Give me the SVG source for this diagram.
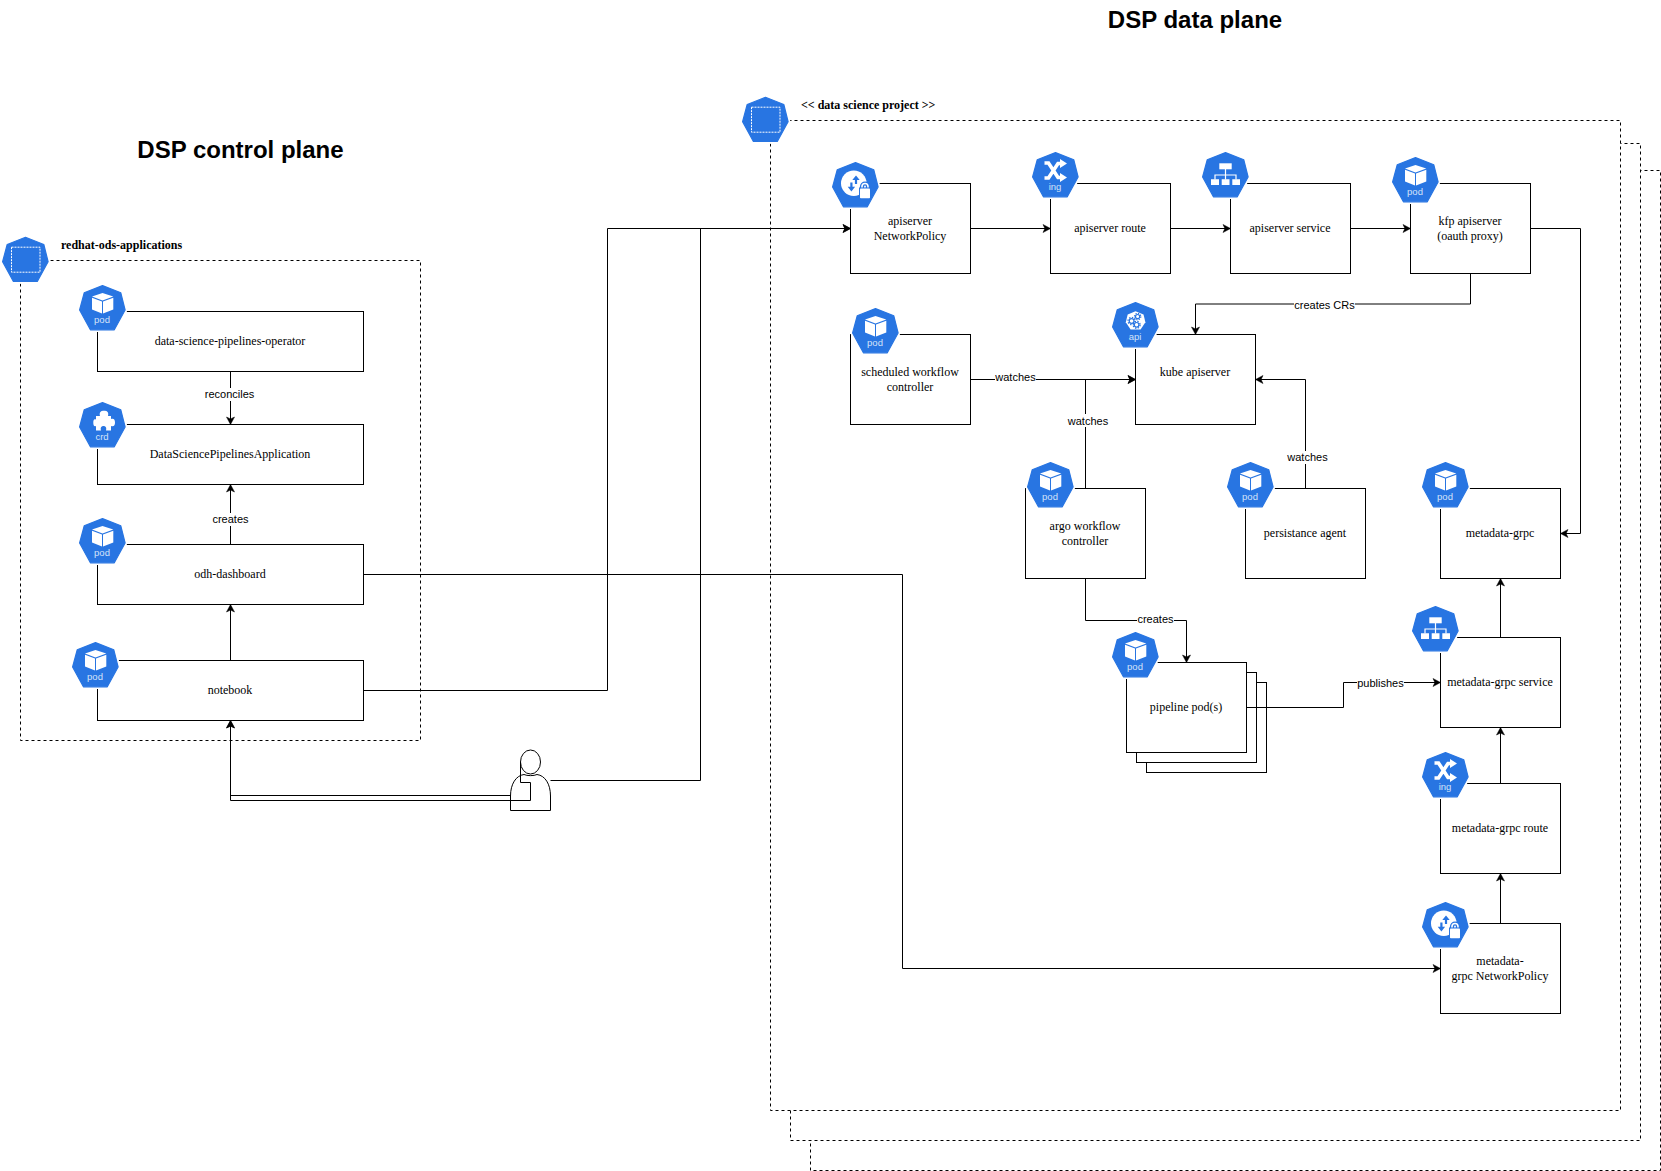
<svg xmlns="http://www.w3.org/2000/svg" xmlns:xlink="http://www.w3.org/1999/xlink" width="1661" height="1171" viewBox="0 0 1661 1171">
<style>
.box{fill:#fff;stroke:#000;stroke-width:1}
.ns{fill:#fff;stroke:#000;stroke-width:1;stroke-dasharray:3 3}
.t{font-family:"Liberation Serif",serif;font-size:12px;text-anchor:middle;fill:#000}
.nst{font-family:"Liberation Serif",serif;font-size:12px;font-weight:bold;fill:#000}
.title{font-family:"Liberation Sans",Arial,sans-serif;font-size:24px;font-weight:bold;text-anchor:middle;fill:#000}
.ik{font-family:"Liberation Sans",Arial,sans-serif;font-size:9.5px;text-anchor:middle;fill:#d4e3f9}
.e{fill:none;stroke:#000;stroke-width:1;marker-end:url(#arr)}
.lb{fill:#fff;stroke:none}
.lt{font-family:"Liberation Sans",Arial,sans-serif;font-size:11px;text-anchor:middle;fill:#000}
.w{fill:#fff}
</style>
<defs>
<marker id="arr" markerUnits="userSpaceOnUse" markerWidth="9" markerHeight="10" refX="7.5" refY="4.5" orient="auto" overflow="visible">
<path d="M0,0.5 L7.5,4.5 L0,8.5 L1.9,4.5 Z" fill="#000" stroke="#000" stroke-width="0.5"/>
</marker>
<g id="hex">
<path d="M23.5,0 L42.3,7.3 L46.7,25 L35.7,45.3 L11,45.3 L0,25 L4.7,7.3 Z" fill="#fff" stroke="#fff" stroke-width="3.5" stroke-linejoin="round"/>
<path d="M23.5,0.6 L41.8,7.8 L46.1,25 L35.3,44.8 L11.4,44.8 L0.6,25 L5.2,7.8 Z" fill="#2875e2" stroke="#2875e2" stroke-width="1.2" stroke-linejoin="round"/>
</g>
<g id="i-ns"><use href="#hex"/><rect x="9.5" y="10.5" width="28.5" height="25" fill="none" stroke="#fff" stroke-width="1" stroke-dasharray="2 1"/></g>
<g id="i-pod"><use href="#hex"/>
<path class="w" d="M23.5,8 L34.3,11.6 L23.5,15.4 L13,11.6 Z"/>
<path class="w" d="M13,12.8 L23,16.4 L23,28.4 L13,24.6 Z"/>
<path class="w" d="M24,16.4 L34.3,12.8 L34.3,24.6 L24,28.4 Z"/>
</g>
<g id="i-crd"><use href="#hex"/>
<path class="w" d="M17,14 H21 C20,10 22,8.7 25,8.7 C28,8.7 30,10 29,14 H32 V17 C35,16 36,18 36,20.5 C36,23 35,25 32,24 V28.5 H27 C28,25 26,24 24.5,24 C23,24 21,25 22,28.5 H17 V24 C15,25 14.3,23 14.3,20.5 C14.3,18 15,16.5 17,17.5 Z"/>
</g>
<g id="i-ing"><use href="#hex"/>
<path d="M12.5,11 H16.5 L26,25.5 H29 M12.5,26 H16.5 L26,11.5 H29" fill="none" stroke="#fff" stroke-width="3.6"/>
<path class="w" d="M28,7 L35,11.5 L28,16 Z M28,21 L35,25.5 L28,30 Z"/>
</g>
<g id="i-svc"><use href="#hex"/>
<rect class="w" x="17.3" y="11.3" width="12.4" height="6"/>
<path class="w" d="M9,27.3 H17 V33 H9 Z M19.7,27.3 H27.5 V33 H19.7 Z M30.3,27.3 H38 V33 H30.3 Z"/>
<path d="M23.5,17 V27.5 M13,27.5 V23 H34 V27.5" fill="none" stroke="#fff" stroke-width="1.2"/>
</g>
<g id="i-np"><use href="#hex"/>
<circle class="w" cx="21.8" cy="21.3" r="12.8"/>
<path d="M24,22 V17 M19.4,20.5 V25.5" fill="none" stroke="#2875e2" stroke-width="2.2"/>
<path d="M20.3,18 L24,13.5 L27.7,18 Z M15.7,24.8 L19.4,29.6 L23.1,24.8 Z" fill="#2875e2"/>
<path d="M30,26 V24.5 A3,3 0 0 1 36,24.5 V26" fill="none" stroke="#2875e2" stroke-width="4.2"/>
<path d="M30,26 V24.5 A3,3 0 0 1 36,24.5 V26" fill="none" stroke="#fff" stroke-width="1.6"/>
<rect x="27" y="25.5" width="12" height="11.5" fill="#2875e2"/>
<rect class="w" x="28" y="26.5" width="10" height="9.7" rx="0.8"/>
</g>
<g id="i-api"><use href="#hex"/>
<path class="w" d="M23.5,9.3 L31.5,12.5 L33.4,20.2 L28.6,27.4 L18.6,27.4 L13.8,20.2 L15.7,12.5 Z"/>
<g fill="none" stroke="#2875e2">
<circle cx="19.6" cy="19" r="2.4" stroke-width="1.2"/><circle cx="19.6" cy="19" r="3.6" stroke-width="1.3" stroke-dasharray="1.4 1.4"/>
<circle cx="25.6" cy="14.6" r="2.1" stroke-width="1.2"/><circle cx="25.6" cy="14.6" r="3.2" stroke-width="1.2" stroke-dasharray="1.3 1.2"/>
<circle cx="24.6" cy="22.8" r="2.3" stroke-width="1.2"/><circle cx="24.6" cy="22.8" r="3.5" stroke-width="1.3" stroke-dasharray="1.4 1.4"/>
</g>
</g>
</defs>
<rect width="1661" height="1171" fill="#fff"/>

<text class="title" x="240.5" y="158">DSP control plane</text>
<text class="title" x="1195" y="28">DSP data plane</text>

<g id="ns-data-3"><rect class="ns" x="810.5" y="170.5" width="850" height="1000"/></g>
<g id="ns-data-2"><rect class="ns" x="790.5" y="143.5" width="850" height="997"/></g>
<g id="ns-data-1"><rect class="ns" x="770.5" y="120.5" width="850" height="990"/>
<use href="#i-ns" x="742" y="96.7"/>
<text class="nst" x="801" y="109">&lt;&lt; data science project &gt;&gt;</text></g>
<g id="ns-redhat"><rect class="ns" x="20.5" y="260.5" width="400" height="480"/>
<use href="#i-ns" x="2" y="236.7"/>
<text class="nst" x="61" y="249">redhat-ods-applications</text></g>

<g id="operator"><rect class="box" x="97.5" y="311.5" width="266" height="60"/>
<text class="t" x="230" y="345">data-science-pipelines-operator</text>
<use href="#i-pod" x="79" y="285"/><text class="ik" x="102" y="323">pod</text></g>
<g id="dspa"><rect class="box" x="97.5" y="424.5" width="266" height="60"/>
<text class="t" x="230" y="458">DataSciencePipelinesApplication</text>
<use href="#i-crd" x="79" y="402"/><text class="ik" x="102" y="440">crd</text></g>
<g id="odh-dashboard"><rect class="box" x="97.5" y="544.5" width="266" height="60"/>
<text class="t" x="230" y="578">odh-dashboard</text>
<use href="#i-pod" x="79" y="518"/><text class="ik" x="102" y="556">pod</text></g>
<g id="notebook"><rect class="box" x="97.5" y="660.5" width="266" height="60"/>
<text class="t" x="230" y="694">notebook</text>
<use href="#i-pod" x="72" y="642"/><text class="ik" x="95" y="680">pod</text></g>

<g id="apiserver-np"><rect class="box" x="850.5" y="183.5" width="120" height="90"/>
<text class="t" x="910" y="225">apiserver</text><text class="t" x="910" y="240">NetworkPolicy</text>
<use href="#i-np" x="832" y="162"/></g>
<g id="apiserver-route"><rect class="box" x="1050.5" y="183.5" width="120" height="90"/>
<text class="t" x="1110" y="232">apiserver route</text>
<use href="#i-ing" x="1032" y="152"/><text class="ik" x="1055" y="190">ing</text></g>
<g id="apiserver-service"><rect class="box" x="1230.5" y="183.5" width="120" height="90"/>
<text class="t" x="1290" y="232">apiserver service</text>
<use href="#i-svc" x="1202" y="152"/></g>
<g id="kfp-apiserver"><rect class="box" x="1410.5" y="183.5" width="120" height="90"/>
<text class="t" x="1470" y="225">kfp apiserver</text><text class="t" x="1470" y="240">(oauth proxy)</text>
<use href="#i-pod" x="1392" y="157"/><text class="ik" x="1415" y="195">pod</text></g>
<g id="scheduled-workflow"><rect class="box" x="850.5" y="334.5" width="120" height="90"/>
<text class="t" x="910" y="376">scheduled workflow</text><text class="t" x="910" y="391">controller</text>
<use href="#i-pod" x="852" y="308"/><text class="ik" x="875" y="346">pod</text></g>
<g id="kube-apiserver"><rect class="box" x="1135.5" y="334.5" width="120" height="90"/>
<text class="t" x="1195" y="376">kube apiserver</text>
<use href="#i-api" x="1112" y="302"/><text class="ik" x="1135" y="340">api</text></g>
<g id="argo"><rect class="box" x="1025.5" y="488.5" width="120" height="90"/>
<text class="t" x="1085" y="530">argo workflow</text><text class="t" x="1085" y="545">controller</text>
<use href="#i-pod" x="1027" y="462"/><text class="ik" x="1050" y="500">pod</text></g>
<g id="persistance-agent"><rect class="box" x="1245.5" y="488.5" width="120" height="90"/>
<text class="t" x="1305" y="537">persistance agent</text>
<use href="#i-pod" x="1227" y="462"/><text class="ik" x="1250" y="500">pod</text></g>
<g id="metadata-grpc"><rect class="box" x="1440.5" y="488.5" width="120" height="90"/>
<text class="t" x="1500" y="537">metadata-grpc</text>
<use href="#i-pod" x="1422" y="462"/><text class="ik" x="1445" y="500">pod</text></g>
<g id="pipeline-pods"><rect class="box" x="1146.5" y="682.5" width="120" height="90"/><rect class="box" x="1136.5" y="672.5" width="120" height="90"/><rect class="box" x="1126.5" y="662.5" width="120" height="90"/>
<text class="t" x="1186" y="711">pipeline pod(s)</text>
<use href="#i-pod" x="1112" y="632"/><text class="ik" x="1135" y="670">pod</text></g>
<g id="metadata-grpc-service"><rect class="box" x="1440.5" y="637.5" width="120" height="90"/>
<text class="t" x="1500" y="686">metadata-grpc service</text>
<use href="#i-svc" x="1412" y="606"/></g>
<g id="metadata-grpc-route"><rect class="box" x="1440.5" y="783.5" width="120" height="90"/>
<text class="t" x="1500" y="832">metadata-grpc route</text>
<use href="#i-ing" x="1422" y="752"/><text class="ik" x="1445" y="790">ing</text></g>
<g id="metadata-grpc-np"><rect class="box" x="1440.5" y="923.5" width="120" height="90"/>
<text class="t" x="1500" y="965">metadata-</text><text class="t" x="1500" y="980">grpc NetworkPolicy</text>
<use href="#i-np" x="1422" y="902"/></g>

<g id="user" fill="#fff" stroke="#000" stroke-width="1">
<ellipse cx="530.5" cy="762" rx="10" ry="12"/>
<path d="M510.5,810.5 V796 C510.5,784 516,775.5 524,774.5 C527,776 534,776 537,774.5 C545,775.5 550.5,784 550.5,796 V810.5 Z"/>
</g>

<g id="connectors">
<path class="e" d="M230.5,371.5 V424.5"/>
<path class="e" d="M230.5,544.5 V484.5"/>
<path class="e" d="M230.5,660.5 V604.5"/>
<path class="e" d="M363.5,690.5 H607.5 V228.5 H850.5"/>
<path class="e" d="M363.5,574.5 H902.5 V968.5 H1440.5"/>
<path class="e" d="M510.5,795.5 H230.5 V720.5"/>
<path class="e" d="M520.5,762 V782.5 H530.5 V800.5 H230.5 V720.5"/>
<path class="e" d="M550.5,780.5 H700.5 V228.5 H850.5"/>
<path class="e" d="M970.5,228.5 H1050.5"/>
<path class="e" d="M1170.5,228.5 H1230.5"/>
<path class="e" d="M1350.5,228.5 H1410.5"/>
<path class="e" d="M1530.5,228.5 H1580.5 V533.5 H1560.5"/>
<path class="e" d="M1470.5,273.5 V304 H1195.5 V334.5"/>
<path class="e" d="M970.5,379.5 H1135.5"/>
<path class="e" d="M1085.5,488.5 V379.5 H1135.5"/>
<path class="e" d="M1305.5,488.5 V379.5 H1255.5"/>
<path class="e" d="M1085.5,578.5 V620.5 H1186.5 V662.5"/>
<path class="e" d="M1246.5,707.5 H1343.5 V682.5 H1440.5"/>
<path class="e" d="M1500.5,637.5 V578.5"/>
<path class="e" d="M1500.5,783.5 V727.5"/>
<path class="e" d="M1500.5,923.5 V873.5"/>
<rect class="lb" x="204.5" y="388" width="50" height="13"/><text class="lt" x="229.5" y="398">reconciles</text>
<rect class="lb" x="212" y="513" width="37" height="13"/><text class="lt" x="230.5" y="523">creates</text>
<rect class="lb" x="1294" y="299" width="61" height="13"/><text class="lt" x="1324.5" y="309">creates CRs</text>
<rect class="lb" x="995" y="371" width="41" height="13"/><text class="lt" x="1015.5" y="381">watches</text>
<rect class="lb" x="1068" y="414" width="41" height="13"/><text class="lt" x="1088" y="424.5">watches</text>
<rect class="lb" x="1287" y="451" width="41" height="13"/><text class="lt" x="1307.5" y="461">watches</text>
<rect class="lb" x="1137" y="613" width="37" height="13"/><text class="lt" x="1155.5" y="623">creates</text>
<rect class="lb" x="1357" y="677" width="47" height="13"/><text class="lt" x="1380.5" y="687">publishes</text>
</g>
</svg>
